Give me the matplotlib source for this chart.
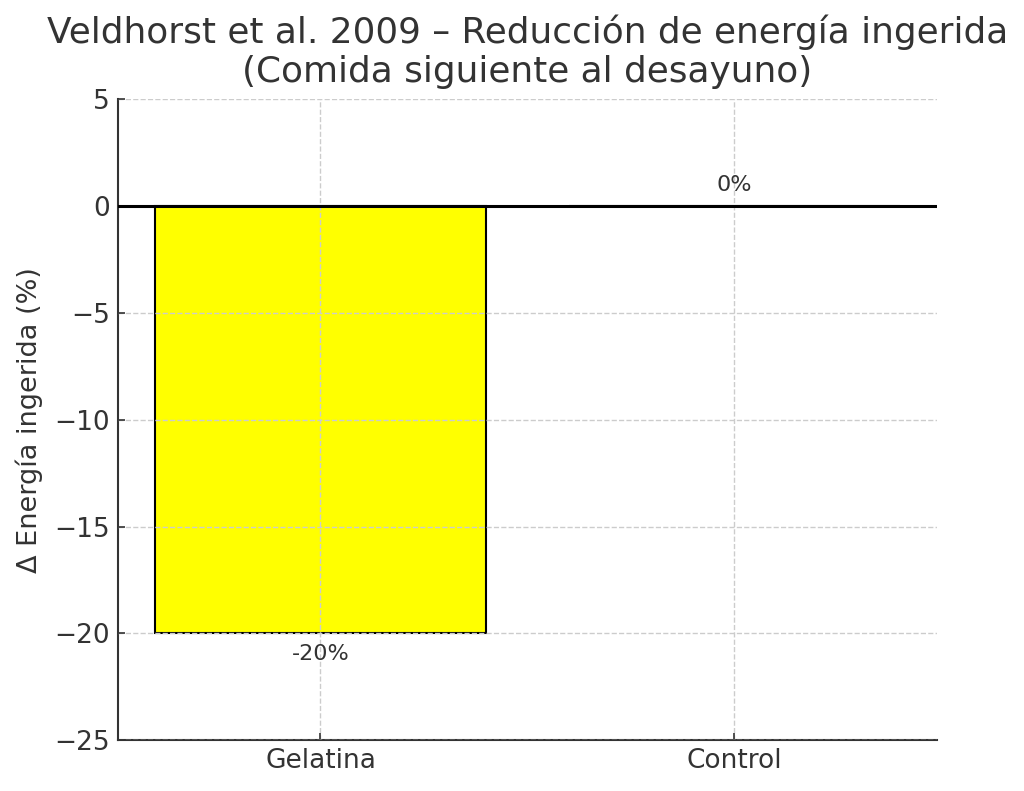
import numpy as np
import matplotlib.pyplot as plt

# Datos
categorias = ['Gelatina', 'Control']
cambio_energia = [-20, 0]
colores = ['yellow', 'gray']

plt.rcParams['text.color'] = '#333333'
plt.rcParams['axes.labelcolor'] = '#333333'
plt.rcParams['xtick.color'] = '#333333'
plt.rcParams['ytick.color'] = '#333333'

fig, ax = plt.subplots(figsize=(10.24, 7.91), dpi=100)
bars = ax.bar(categorias, cambio_energia, color=colores, edgecolor='black', linewidth=1.5)
ax.axhline(0, color='black', linewidth=2.2, zorder=5)

for b, v in zip(bars, cambio_energia):
    x = b.get_x() + b.get_width() / 2
    if v < 0:
        ax.text(x, v - 0.5, f'{v}%', ha='center', va='top', fontsize=16)
    else:
        ax.text(x, v + 0.5, f'{v}%', ha='center', va='bottom', fontsize=16)

ax.set_ylim(-25, 5)
ax.set_ylabel('Δ Energía ingerida (%)', fontsize=19.5, labelpad=8)
ax.set_title('Veldhorst et al. 2009 – Reducción de energía ingerida\n(Comida siguiente al desayuno)',
             fontsize=25.8, pad=12, linespacing=1.2)
ax.tick_params(labelsize=19, width=1.2, length=5, direction='in', pad=5.5)
ax.grid(True, linestyle='--', color='#cccccc', linewidth=1)
ax.set_axisbelow(False)
for s in ['top', 'right']:
    ax.spines[s].set_visible(False)
for s in ['left', 'bottom']:
    ax.spines[s].set_linewidth(1.5)
    ax.spines[s].set_color('#333333')

fig.subplots_adjust(left=0.115, right=0.915, top=0.875, bottom=0.064)
fig.savefig('out.png')
